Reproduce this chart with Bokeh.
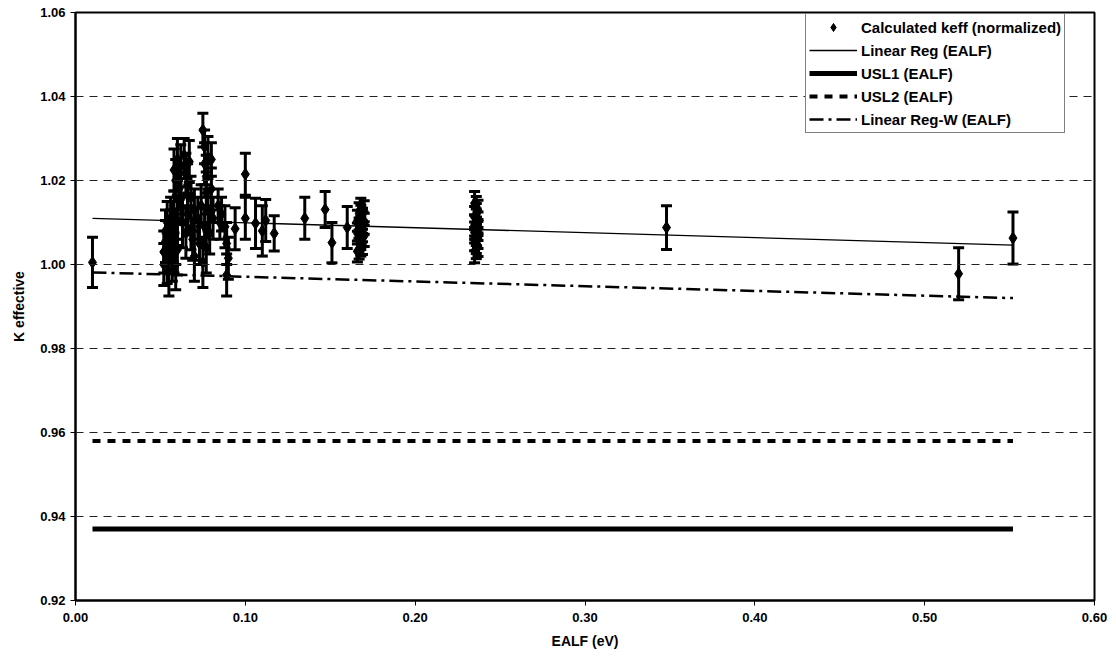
from bokeh.plotting import figure
from bokeh.models import (ColumnDataSource, Whisker, TeeHead, Legend, LegendItem,
                          FixedTicker, NumeralTickFormatter, Span)
from bokeh.embed import file_html
from bokeh.resources import INLINE
import numpy as np

# Calculated keff (normalized) versus energy of average lethargy causing fission
ealf = [
    0.010,
    0.052, 0.052, 0.053, 0.053, 0.054, 0.054, 0.055, 0.055, 0.056, 0.056,
    0.057, 0.057, 0.058, 0.058, 0.059, 0.059, 0.060, 0.060,
    0.058, 0.059, 0.060, 0.061, 0.062, 0.062,
    0.064, 0.065, 0.066, 0.066, 0.067, 0.068, 0.068, 0.069, 0.070, 0.070, 0.065, 0.063,
    0.072, 0.073, 0.074,
    0.075, 0.076, 0.076, 0.077, 0.077, 0.078, 0.076, 0.077, 0.075, 0.078,
    0.080, 0.080, 0.081, 0.079,
    0.084, 0.085, 0.086,
    0.088, 0.089, 0.089, 0.090,
    0.094, 0.100, 0.100, 0.106, 0.110, 0.112, 0.117, 0.135, 0.147, 0.151, 0.160,
    0.166, 0.167, 0.168, 0.169, 0.167, 0.168, 0.170, 0.166, 0.169, 0.167,
    0.168, 0.170, 0.166, 0.169, 0.168, 0.167, 0.170, 0.168,
    0.235, 0.236, 0.237, 0.236, 0.235, 0.237, 0.236, 0.235, 0.237, 0.236,
    0.235, 0.237, 0.236, 0.235, 0.236, 0.237, 0.236, 0.235,
    0.348, 0.520, 0.552,
]
keff = [
    1.0005,
    1.0000, 1.0030, 1.0055, 1.0080, 1.0015, 1.0100, 0.9985, 1.0045, 1.0070, 1.0110,
    1.0020, 1.0090, 1.0040, 1.0125, 1.0060, 1.0000, 1.0105, 1.0035,
    1.0225, 1.0200, 1.0250, 1.0180, 1.0235, 1.0155,
    1.0260, 1.0215, 1.0190, 1.0120, 1.0245, 1.0085, 1.0160, 1.0060, 1.0130, 1.0020, 1.0075, 1.0100,
    1.0110, 1.0050, 1.0140,
    1.0320, 1.0280, 1.0240, 1.0210, 1.0170, 1.0130, 1.0090, 1.0040, 1.0005, 1.0255,
    1.0250, 1.0180, 1.0110, 1.0075,
    1.0140, 1.0100, 1.0120,
    1.0090, 1.0050, 0.9975, 1.0015,
    1.0085, 1.0215, 1.0110, 1.0098, 1.0080, 1.0105, 1.0074, 1.0110, 1.0131, 1.0052, 1.0088,
    1.0031, 1.0038, 1.0045, 1.0049, 1.0057, 1.0061, 1.0068, 1.0074, 1.0079, 1.0086,
    1.0091, 1.0097, 1.0104, 1.0109, 1.0116, 1.0122, 1.0127, 1.0133,
    1.0032, 1.0039, 1.0044, 1.0051, 1.0058, 1.0063, 1.0070, 1.0076, 1.0082, 1.0088,
    1.0093, 1.0100, 1.0107, 1.0113, 1.0120, 1.0128, 1.0137, 1.0146,
    1.0088, 0.9978, 1.0063,
]
sigma = [
    0.0060,
    0.0050, 0.0050, 0.0050, 0.0050, 0.0060, 0.0050, 0.0060, 0.0060, 0.0060, 0.0050,
    0.0060, 0.0060, 0.0060, 0.0050, 0.0060, 0.0060, 0.0060, 0.0060,
    0.0050, 0.0050, 0.0050, 0.0050, 0.0050, 0.0050,
    0.0040, 0.0050, 0.0050, 0.0050, 0.0050, 0.0050, 0.0050, 0.0050, 0.0050, 0.0060, 0.0060, 0.0060,
    0.0050, 0.0050, 0.0050,
    0.0040, 0.0040, 0.0050, 0.0050, 0.0050, 0.0050, 0.0050, 0.0060, 0.0060, 0.0050,
    0.0040, 0.0050, 0.0050, 0.0050,
    0.0040, 0.0040, 0.0040,
    0.0050, 0.0050, 0.0050, 0.0050,
    0.0050, 0.0050, 0.0050, 0.0060, 0.0060, 0.0050, 0.0042, 0.0050, 0.0043, 0.0048, 0.0050,
    0.0025, 0.0025, 0.0025, 0.0025, 0.0025, 0.0025, 0.0025, 0.0025, 0.0025, 0.0025,
    0.0025, 0.0025, 0.0025, 0.0025, 0.0025, 0.0025, 0.0025, 0.0025,
    0.0028, 0.0025, 0.0025, 0.0025, 0.0025, 0.0025, 0.0025, 0.0025, 0.0025, 0.0025,
    0.0025, 0.0025, 0.0025, 0.0025, 0.0025, 0.0025, 0.0025, 0.0028,
    0.0052, 0.0062, 0.0062,
]

# Trend lines and upper subcritical limits over the EALF range
fit_x = [0.010, 0.552]
linreg_y = [1.0110, 1.0046]
linreg_w_y = [0.9981, 0.9920]
usl1_y = [0.937, 0.937]
usl2_y = [0.958, 0.958]

y_ticks = [0.92, 0.94, 0.96, 0.98, 1.00, 1.02, 1.04, 1.06]
x_ticks = [0.0, 0.1, 0.2, 0.3, 0.4, 0.5, 0.6]

FONT = "Liberation Sans"

k = np.array(keff)
s = np.array(sigma)
src = ColumnDataSource(dict(x=ealf, y=keff, lo=k - s, hi=k + s))

p = figure(width=1116, height=660, output_backend="svg", toolbar_location=None,
           x_range=(0.0, 0.6), y_range=(0.92, 1.06),
           min_border_left=75, min_border_right=22, min_border_top=12, min_border_bottom=60)
p.background_fill_color = "white"
p.border_fill_color = "white"
p.outline_line_color = "black"
p.outline_line_width = 2

p.xgrid.visible = False
p.ygrid.visible = False
for yv in y_ticks[1:-1]:
    p.add_layout(Span(location=yv, dimension="width", line_color="#222222",
                      line_width=1, line_dash="8 6"))

# Error bars
whisk = Whisker(source=src, base="x", lower="lo", upper="hi", line_color="black",
                line_width=3,
                lower_head=TeeHead(size=11, line_width=3, line_color="black"),
                upper_head=TeeHead(size=11, line_width=3, line_color="black"))
p.add_layout(whisk)

pts = p.scatter("x", "y", source=src, marker="diamond", size=12,
                fill_color="black", line_color="black")

r_lin = p.line(fit_x, linreg_y, line_color="black", line_width=1.3)
r_usl1 = p.line(fit_x, usl1_y, line_color="black", line_width=5)
r_usl2 = p.line(fit_x, usl2_y, line_color="black", line_width=4, line_dash="8 7")
r_linw = p.line(fit_x, linreg_w_y, line_color="black", line_width=2.5,
                line_dash="14 5 3 5")

# Axes
for ax in (p.xaxis[0], p.yaxis[0]):
    ax.major_label_text_font = FONT
    ax.major_label_text_font_style = "bold"
    ax.major_label_text_font_size = "13px"
    ax.major_label_text_color = "black"
    ax.axis_label_text_font = FONT
    ax.axis_label_text_font_style = "bold"
    ax.axis_label_text_font_size = "14px"
    ax.axis_label_text_color = "black"
    ax.axis_line_color = "black"
    ax.axis_line_width = 2
    ax.major_tick_line_color = "black"
    ax.major_tick_out = 5
    ax.major_tick_in = 0
    ax.minor_tick_line_color = None
    ax.formatter = NumeralTickFormatter(format="0.00")

p.xaxis[0].ticker = FixedTicker(ticks=x_ticks)
p.yaxis[0].ticker = FixedTicker(ticks=y_ticks)
p.xaxis[0].axis_label = "EALF (eV)"
p.yaxis[0].axis_label = "K effective"
p.xaxis[0].major_label_standoff = 7
p.xaxis[0].axis_label_standoff = 8
p.yaxis[0].major_label_standoff = 5
p.yaxis[0].axis_label_standoff = 10

legend = Legend(items=[
    LegendItem(label="Calculated keff (normalized)", renderers=[pts]),
    LegendItem(label="Linear Reg (EALF)", renderers=[r_lin]),
    LegendItem(label="USL1 (EALF)", renderers=[r_usl1]),
    LegendItem(label="USL2 (EALF)", renderers=[r_usl2]),
    LegendItem(label="Linear Reg-W (EALF)", renderers=[r_linw]),
], location=(730, 467))
legend.margin = 0
legend.padding = 3
legend.spacing = 3
legend.glyph_width = 48
legend.glyph_height = 20
legend.label_height = 20
legend.label_standoff = 4
legend.label_text_font = FONT
legend.label_text_font_style = "bold"
legend.label_text_font_size = "15px"
legend.label_text_color = "black"
legend.border_line_color = "black"
legend.border_line_width = 1.5
legend.background_fill_color = "white"
legend.background_fill_alpha = 1
p.add_layout(legend)

open("out.html", "w").write(file_html(p, INLINE))
